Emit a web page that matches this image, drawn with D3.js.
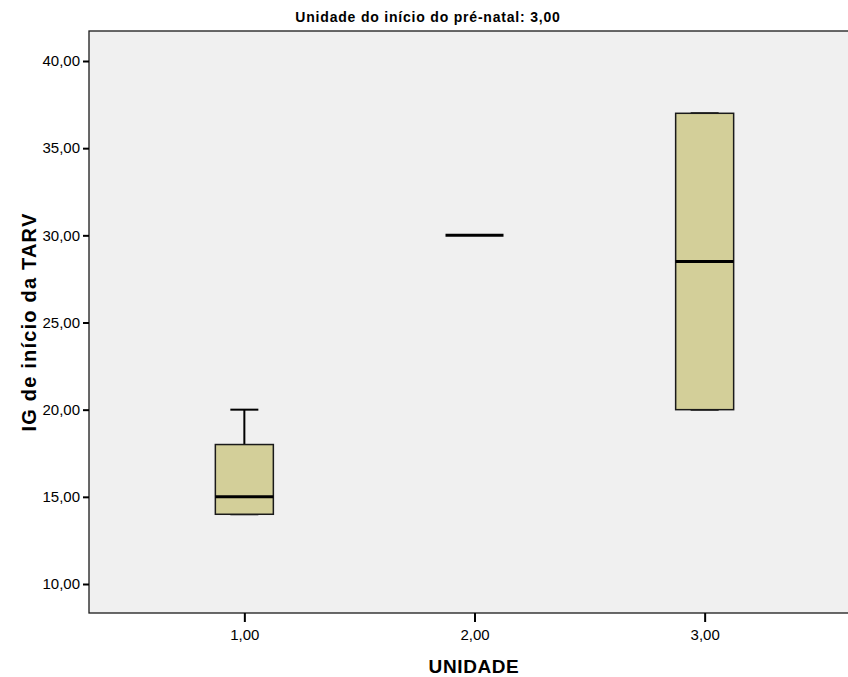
<!DOCTYPE html>
<html>
<head>
<meta charset="utf-8">
<script src="https://cdn.jsdelivr.net/npm/d3@7"></script>
<style>
  html, body { margin: 0; padding: 0; background: #ffffff; }
  svg text { font-family: "Liberation Sans", Arial, sans-serif; fill: #000; }
</style>
</head>
<body>
<svg id="chart" width="848" height="677"></svg>
<script>
// Unit of ART start, by prenatal-start unit 3,00
const categories = [1, 2, 3];
const categoryLabels = ["1,00", "2,00", "3,00"];
const whiskerLow  = [14, 30, 20];
const q1          = [14, 30, 20];
const median      = [15, 30, 28.5];
const q3          = [18, 30, 37];
const whiskerHigh = [20, 30, 37];
const yTicks = [10, 15, 20, 25, 30, 35, 40];

const titleText = "Unidade do início do pré-natal: 3,00";
const xTitle = "UNIDADE";
const yTitle = "IG de início da TARV";

const svg = d3.select("#chart");
const margin = { left: 89, top: 31, bottom: 613, right: 860 };

const x = d3.scaleLinear().domain([0.325, 3.675]).range([margin.left, margin.right]);
const y = d3.scaleLinear().domain([10, 40]).range([584, 61]);

const fmt = v => d3.format(".2f")(v).replace(".", ",");

// plot background
svg.append("rect")
  .attr("x", margin.left).attr("y", margin.top)
  .attr("width", margin.right - margin.left)
  .attr("height", margin.bottom - margin.top)
  .attr("fill", "#f0f0f0")
  .attr("stroke", "#1a1a1a").attr("stroke-width", 1.3);

// y axis
const yAxis = d3.axisLeft(y).tickValues(yTicks).tickFormat(fmt).tickSize(6).tickPadding(3);
const gy = svg.append("g").attr("transform", `translate(${margin.left},0)`).call(yAxis);
gy.select(".domain").remove();
gy.selectAll(".tick line").attr("stroke", "#000").attr("stroke-width", 2);
gy.selectAll(".tick text").attr("font-size", 15).attr("font-family", "Liberation Sans, Arial, sans-serif");

// x axis
const xAxis = d3.axisBottom(x).tickValues(categories)
  .tickFormat((d, i) => categoryLabels[i]).tickSize(9).tickPadding(7);
const gx = svg.append("g").attr("transform", `translate(0,${margin.bottom})`).call(xAxis);
gx.select(".domain").remove();
gx.selectAll(".tick line").attr("stroke", "#000").attr("stroke-width", 2);
gx.selectAll(".tick text").attr("font-size", 15).attr("font-family", "Liberation Sans, Arial, sans-serif");

// boxplots
const boxW = 58;
const capW = 28;
const boxes = svg.append("g");
categories.forEach((c, i) => {
  const cx = x(c);
  const g = boxes.append("g");
  if (whiskerHigh[i] > q3[i]) {
    g.append("line").attr("x1", cx).attr("x2", cx)
      .attr("y1", y(q3[i])).attr("y2", y(whiskerHigh[i]))
      .attr("stroke", "#000").attr("stroke-width", 2);
  }
  if (whiskerLow[i] < q1[i]) {
    g.append("line").attr("x1", cx).attr("x2", cx)
      .attr("y1", y(q1[i])).attr("y2", y(whiskerLow[i]))
      .attr("stroke", "#000").attr("stroke-width", 2);
  }
  if (q3[i] > q1[i]) {
    // whisker caps
    [whiskerHigh[i], whiskerLow[i]].forEach(v => {
      g.append("line").attr("x1", cx - capW / 2).attr("x2", cx + capW / 2)
        .attr("y1", y(v)).attr("y2", y(v))
        .attr("stroke", "#000").attr("stroke-width", 2);
    });
    g.append("rect")
      .attr("x", cx - boxW / 2).attr("width", boxW)
      .attr("y", y(q3[i])).attr("height", y(q1[i]) - y(q3[i]))
      .attr("fill", "#d3cf99")
      .attr("stroke", "#1a1a1a").attr("stroke-width", 1.5);
  }
  // median
  g.append("line").attr("x1", cx - boxW / 2).attr("x2", cx + boxW / 2)
    .attr("y1", y(median[i])).attr("y2", y(median[i]))
    .attr("stroke", "#000").attr("stroke-width", 3);
});

// titles
svg.append("text").attr("x", 428).attr("y", 22)
  .attr("text-anchor", "middle").attr("font-size", 14).attr("font-weight", "bold")
  .attr("letter-spacing", 0.8)
  .text(titleText);

svg.append("text").attr("x", 474).attr("y", 673)
  .attr("text-anchor", "middle").attr("font-size", 19).attr("font-weight", "bold")
  .attr("letter-spacing", 0.6)
  .text(xTitle);

svg.append("text")
  .attr("transform", "translate(36,322) rotate(-90)")
  .attr("text-anchor", "middle").attr("font-size", 20).attr("font-weight", "bold")
  .attr("letter-spacing", 1.2)
  .text(yTitle);
</script>
</body>
</html>
